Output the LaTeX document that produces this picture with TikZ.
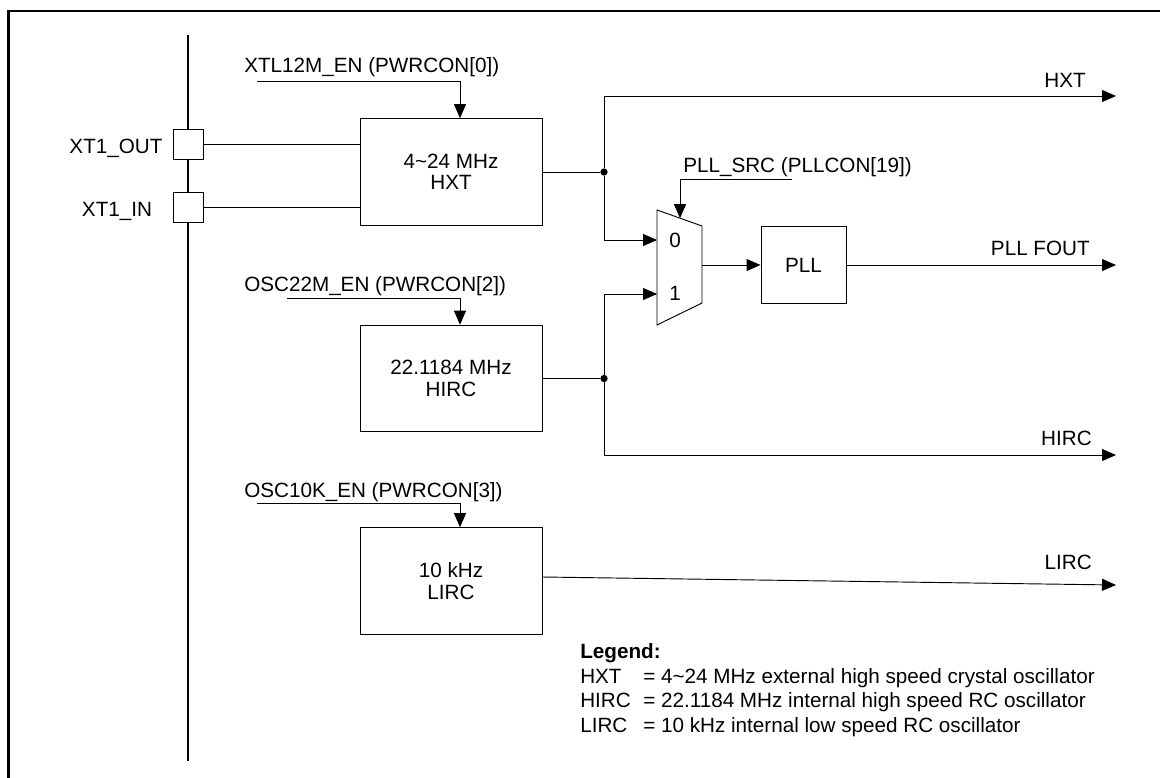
\documentclass[tikz,border=0pt]{standalone}
\usepackage{fontspec}
\setmainfont{Liberation Sans}
\usetikzlibrary{arrows.meta}
\begin{document}
\begin{tikzpicture}[x=0.75pt,y=-0.75pt,
  every node/.style={font=\fontsize{15.5}{16}\selectfont, inner sep=0pt},
  wire/.style={line width=0.7pt},
  sig/.style={wire,-{Triangle[length=10.5pt,width=9pt]}},
  blk/.style={draw,line width=0.7pt,minimum width=136.5pt,minimum height=80pt,align=center},
  pinbox/.style={draw,line width=0.7pt,minimum size=22.5pt},
  jdot/.style={circle,fill,minimum size=5.5pt},
  lbl/.style={anchor=base west},
  outlbl/.style={anchor=base east},
  frame/.style={line width=1.7pt},
  bus/.style={line width=1.5pt}
]
\useasboundingbox (0,0) rectangle (1160,778);
% frame
\coordinate (ftl) at (8.5,11);
\coordinate (ftr) at (1160,11);
\coordinate (fbl) at (8.5,778);
\draw[frame] (fbl) -- (ftl) -- (ftr);

% pins and bus
\node[pinbox] (pout) at (188,144) {};
\node[pinbox] (pinn) at (188,207) {};
\node[anchor=base] (tout) at (116,153) {XT1\_OUT};
\node[anchor=base] (tin) at (117,216) {XT1\_IN};
\coordinate (bustop) at (188,35);
\coordinate (busbot) at (188,761);
\draw[bus] (bustop) -- (pout.north);
\draw[bus] (pout.south) -- (pinn.north);
\draw[bus] (pinn.south) -- (busbot);

% HXT
\node[blk] (hxt) at (451,172) {4\textasciitilde24 MHz\\HXT};
\draw[wire] (pout.east) -- (pout.east -| hxt.west);
\draw[wire] (pinn.east) -- (pinn.east -| hxt.west);
\node[lbl] (en1) at (244,72.5) {XTL12M\_EN (PWRCON[0])};
\coordinate (en1s) at (257,81);
\draw[sig] (en1s) -| ([xshift=6.75pt]hxt.north);

% MUX
\coordinate (m1) at (657,210);
\coordinate (m2) at (702,226);
\coordinate (m3) at (702,303);
\coordinate (m4) at (657,325);
\draw[wire] (m1) -- (m2) -- (m3) -- (m4) -- cycle;
\coordinate (in0) at (657,240);
\coordinate (in1) at (657,294);
\coordinate (mout) at (702,265);
\coordinate (msel) at (680,218.2);
\node (z0) at (675,240) {0};
\node (z1) at (675,293) {1};

\node[jdot] (d1) at (604,172) {};
\draw[wire] (hxt.east) -- (d1);
\coordinate (ohxt) at (1116,96);
\draw[sig] (d1) |- (ohxt);
\draw[sig] (d1) |- (in0);
\node[outlbl] (thxt) at (1086,87.5) {HXT};

% PLL
\node[draw,line width=0.7pt,minimum width=63.75pt,minimum height=57.75pt] (pll) at (803.5,265) {PLL};
\draw[sig] (mout) -- (pll.west);
\coordinate (opll) at (1116,265);
\draw[sig] (pll.east) -- (opll);
\node[outlbl] (tpll) at (1090,255.5) {PLL FOUT};
\node[lbl] (psrc) at (683,172.5) {PLL\_SRC (PLLCON[19])};
\coordinate (pss) at (792,179);
\draw[sig] (pss) -| (msel);

% HIRC
\node[blk] (hirc) at (451,378.5) {22.1184 MHz\\HIRC};
\node[lbl] (en2) at (244,291) {OSC22M\_EN (PWRCON[2])};
\coordinate (en2s) at (287,298);
\draw[sig] (en2s) -| ([xshift=6.75pt]hirc.north);
\node[jdot] (d2) at (604,378.5) {};
\draw[wire] (hirc.east) -- (d2);
\draw[sig] (d2) |- (in1);
\coordinate (ohirc) at (1116,455);
\draw[sig] (d2) |- (ohirc);
\node[outlbl] (thirc) at (1092,445.5) {HIRC};

% LIRC
\node[blk] (lirc) at (451,581) {10 kHz\\LIRC};
\node[lbl] (en3) at (244,497) {OSC10K\_EN (PWRCON[3])};
\coordinate (en3s) at (257,503);
\draw[sig] (en3s) -| ([xshift=6.75pt]lirc.north);
\coordinate (olirc) at (1116,585);
\draw[sig] ([yshift=3pt]lirc.east) -- (olirc);
\node[outlbl] (tlirc) at (1092,569.5) {LIRC};

% Legend
\node[lbl,font=\fontsize{15.5}{16}\selectfont\bfseries] (leg) at (580,658) {Legend:};
\node[lbl] (k1) at (580,683) {HXT};
\node[lbl] (v1) at (643,683) {= 4\textasciitilde24 MHz external high speed crystal oscillator};
\node[lbl] (k2) at (580,707.5) {HIRC};
\node[lbl] (v2) at (643,707.5) {= 22.1184 MHz internal high speed RC oscillator};
\node[lbl] (k3) at (580,732) {LIRC};
\node[lbl] (v3) at (643,732) {= 10 kHz internal low speed RC oscillator};
\end{tikzpicture}
\end{document}
